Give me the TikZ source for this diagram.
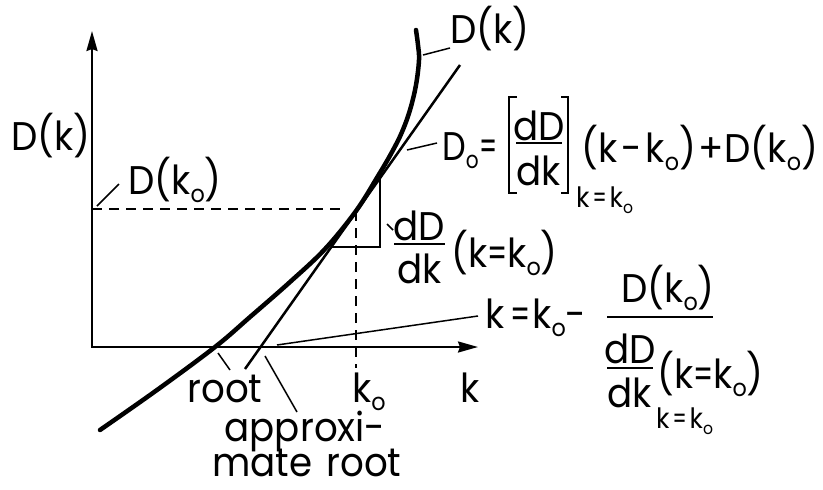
\documentclass[tikz,border=0pt]{standalone}
\usepackage{fontspec}
\setmainfont{Poppins}[FakeStretch=0.93]
\usepackage{graphicx}
\usetikzlibrary{arrows.meta}
\newcommand\subo{\raisebox{-0.22em}{\scalebox{0.6}{o}}}
\newcommand\eqs{\scalebox{0.75}[1]{=}}
\tikzset{
  txt/.style={font=\fontsize{40}{40}\selectfont, inner sep=0pt},
  stxt/.style={font=\fontsize{28}{28}\selectfont, inner sep=0pt},
  axisline/.style={line width=2.2pt, {Stealth[length=20pt,width=11pt,inset=2pt]}-{Stealth[length=20pt,width=11pt,inset=2pt]}},
  curveline/.style={line width=4.5pt, line cap=round},
  tangline/.style={line width=2.5pt},
  leadline/.style={line width=1.5pt},
  dashline/.style={line width=2.2pt, dash pattern=on 10pt off 7pt},
  barline/.style={line width=2.5pt},
}
\begin{document}
\begin{tikzpicture}[x=1pt,y=-1pt]
\useasboundingbox[fill=white] (0,0) rectangle (823,490);

% axes
\coordinate (O) at (92,347);
\coordinate (ytip) at (92,31);
\coordinate (xtip) at (478,347);
\draw[axisline] (ytip) -- (O) -- (xtip);

% curve D(k)
\draw[curveline] plot[smooth, tension=0.6] coordinates {
 (100,430) (157,390) (215,347) (250,317) (290,282) (325,249) (356,211)
 (378,176) (392,152) (402,132) (410,110) (416,85) (419,60) (418,45) (416,30)};

% tangent
\coordinate (ttop) at (460,65);
\coordinate (tbot) at (245,369);
\draw[tangline] (ttop) -- (tbot);

% slope triangle
\coordinate (triA) at (331,247);
\coordinate (triB) at (380,247);
\coordinate (triC) at (380,178);
\draw[line width=2pt] (triA) -- (triB) -- (triC);

% dashed lines
\coordinate (P) at (356,209);
\draw[dashline] (92,209) -- (345,209);
\draw[dashline] (356,211) -- (356,368);

% labels
\node[txt, anchor=base] (ylab) at (51,150) {D(k)};
\node[txt, anchor=base west] (dko) at (128,194) {D(k\subo)};
\coordinate (dkoA) at (97,206);
\coordinate (dkoB) at (119,184);
\draw[leadline] (dkoA) -- (dkoB);

\node[txt, anchor=base] (dklab) at (490,43) {D(k)};
\coordinate (dkA) at (423,55);
\coordinate (dkB) at (450,48);
\draw[leadline] (dkA) -- (dkB);

% D_o equation
\coordinate (eqA) at (407,150);
\coordinate (eqB) at (437,143);
\draw[leadline] (eqA) -- (eqB);
\node[txt, anchor=base west] (eqlhs) at (442,160) {\scalebox{0.9}[1]{D\subo\kern1pt\eqs}};
\node[txt, anchor=base] (eqnum) at (539,140) {dD};
\node[txt, anchor=base] (eqden) at (539,185) {dk};
\draw[barline] (516,143) -- (562,143);
\draw[barline] (517,97) -- (509,97) -- (509,193) -- (517,193);
\draw[barline] (561,97) -- (568,97) -- (568,193) -- (561,193);
\node[stxt, anchor=base west] (eqsub) at (576,207) {k\kern3pt\eqs\kern3pt k\subo};
\node[txt, anchor=base west] (eqrhs) at (581,162) {(k\kern4pt-\kern4pt k\subo)\kern2pt+\kern1pt D(k\subo)};

% slope label
\coordinate (slA) at (387,224);
\coordinate (slB) at (393,230);
\draw[leadline] (slA) -- (slB);
\node[txt, anchor=base] (snum) at (419,240) {dD};
\draw[barline] (394,244) -- (445,244);
\node[txt, anchor=base] (sden) at (420,283) {dk};
\node[txt, anchor=base west] (sarg) at (451,267) {(k\eqs k\subo)};

% Newton formula
\coordinate (nwA) at (277,345);
\coordinate (nwB) at (478,316);
\draw[leadline] (nwA) -- (nwB);
\node[txt, anchor=base west] (nk) at (485,328) {k\kern6pt\eqs\kern2pt k\subo-};
\node[txt, anchor=base] (nnum) at (668,302) {D(k\subo)};
\draw[barline] (607,317) -- (713,317);
\node[txt, anchor=base] (ndnum) at (630,363) {dD};
\draw[barline] (607,368) -- (653,368);
\node[txt, anchor=base] (ndden) at (630,407) {dk};
\node[txt, anchor=base west] (ndarg) at (657,388) {(k\eqs k\subo)};
\node[stxt, anchor=base west] (ndsub) at (656,428) {k\kern3pt\eqs\kern3pt k\subo};

% bottom labels
\node[txt, anchor=base] (root) at (225,402) {root};
\coordinate (rtA) at (218,353);
\coordinate (rtB) at (230,370);
\draw[leadline] (rtA) -- (rtB);
\node[txt, anchor=base, text depth=9pt] (appr1) at (305,441) {approxi-};
\node[txt, anchor=base, text height=29pt, text depth=0pt] (appr2) at (307,476) {mate\hspace{14pt}root};
\coordinate (apA) at (265,356);
\coordinate (apB) at (297,412);
\draw[leadline] (apA) -- (apB);
\node[txt, anchor=base] (klab) at (470,402) {k};
\node[txt, anchor=base west] (kolab) at (352,402) {k\subo};
\end{tikzpicture}
\end{document}
